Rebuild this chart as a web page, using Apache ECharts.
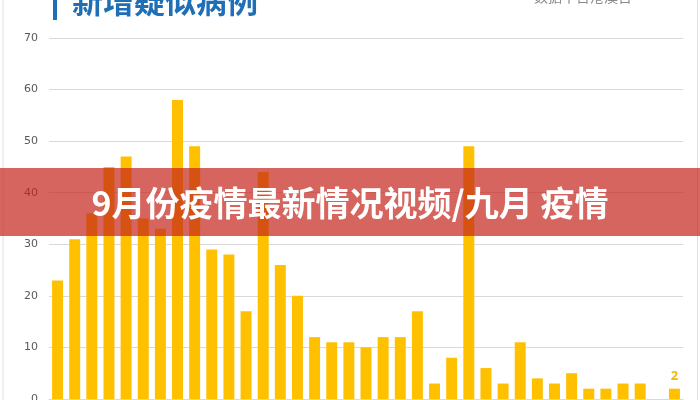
<!DOCTYPE html>
<html>
<head>
<meta charset="utf-8">
<script src="https://cdn.jsdelivr.net/npm/echarts@6/dist/echarts.min.js"></script>
<style>
html,body{margin:0;padding:0;background:#fff;}
#c{width:700px;height:400px;}
</style>
</head>
<body>
<div id="c"></div>
<script>
var categories = ['1','2','3','4','5','6','7','8','9','10','11','12','13','14','15','16','17','18','19','20','21','22','23','24','25','26','27','28','29','30','31','32','33','34','35','36','37'];
var newSuspected = [23,31,36,45,47,35,33,58,49,29,28,17,44,26,20,12,11,11,10,12,12,17,3,8,49,6,3,11,4,3,5,2,2,3,3,0,2];
var yTicks = [0,10,20,30,40,50,60,70];
var titleText = '新增疑似病例';
var noteText = '数据不含港澳台';
var bannerText = '9月份疫情最新情况视频/九月 疫情';

var chart = echarts.init(document.getElementById('c'), null, {renderer:'canvas'});
var lastIdx = newSuspected.length - 1;
var seriesData = newSuspected.map(function(v, i){
  if (i === lastIdx) {
    return {value: v, label: {show: true, position: 'top', distance: 6, color: '#F2B800', fontWeight: 'bold', fontSize: 13, fontFamily: 'Noto Sans'}};
  }
  return v;
});

chart.setOption({
  animation: false,
  backgroundColor: '#ffffff',
  grid: {left: 49, right: 17, top: 38, bottom: 1, containLabel: false, outerBoundsMode: 'none'},
  xAxis: {
    type: 'category',
    data: categories,
    axisLine: {show: true, lineStyle: {color: '#d9d9d9'}},
    axisTick: {show: false},
    axisLabel: {show: false}
  },
  yAxis: {
    type: 'value',
    min: yTicks[0],
    max: yTicks[yTicks.length - 1],
    interval: 10,
    axisLine: {show: false},
    axisTick: {show: false},
    axisLabel: {color: '#595959', fontSize: 11, margin: 11, fontFamily: 'DejaVu Sans'},
    splitLine: {lineStyle: {color: '#d9d9d9', width: 1}}
  },
  series: [{
    type: 'bar',
    data: seriesData,
    barWidth: '64%',
    itemStyle: {color: '#FFC000'}
  }],
  graphic: [
    {type: 'line', shape: {x1: 3, y1: 0, x2: 3, y2: 400}, style: {stroke: '#e0e0e0', lineWidth: 1}, z: 50},
    {type: 'line', shape: {x1: 697.5, y1: 0, x2: 697.5, y2: 400}, style: {stroke: '#e0e0e0', lineWidth: 1}, z: 50},
    {type: 'rect', shape: {x: 53, y: -8, width: 4, height: 28}, style: {fill: '#1f6fb6'}, z: 50},
    {type: 'text', left: 72, top: -14, style: {text: titleText, fill: '#1f6fb6', font: 'bold 31px "Noto Sans CJK SC"'}, z: 50},
    {type: 'text', left: 534, top: -10, style: {text: noteText, fill: '#8a8a8a', font: '14px "Noto Sans CJK SC"'}, z: 50},
    {type: 'rect', shape: {x: 0, y: 168, width: 700, height: 68}, style: {fill: 'rgba(195,35,25,0.7)'}, z: 100},
    {type: 'text', x: 350, y: 203, style: {text: bannerText, fill: '#ffffff', font: 'bold 34px "Noto Sans CJK SC"', textAlign: 'center', textVerticalAlign: 'middle', shadowColor: 'rgba(0,0,0,0.25)', shadowBlur: 2}, z: 101}
  ]
});
</script>
</body>
</html>
